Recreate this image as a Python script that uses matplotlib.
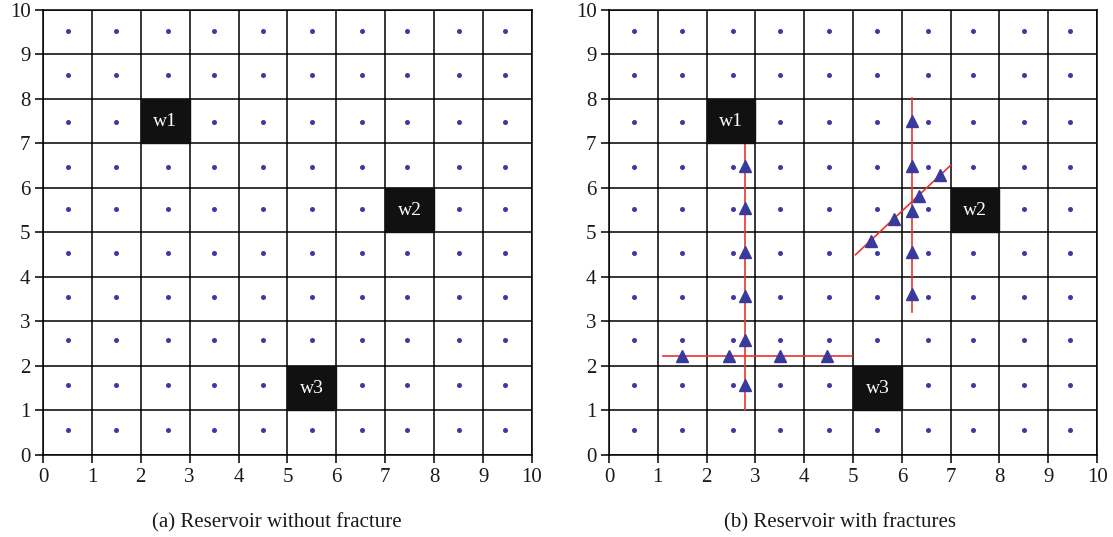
import matplotlib
matplotlib.use("Agg")
import matplotlib.pyplot as plt
from matplotlib.patches import Rectangle

# Grid-block centre points (slightly off-centre, as in the simulator layout)
dot_x = [0.52, 1.5, 2.55, 3.5, 4.5, 5.5, 6.53, 7.45, 8.5, 9.45]
dot_y = [9.53, 8.53, 7.49, 6.48, 5.52, 4.55, 3.55, 2.58, 1.58, 0.57]

# Wells: lower-left corner of each well block
well_names = ["w1", "w2", "w3"]
well_x = [2, 7, 5]
well_y = [7, 5, 1]

# Fracture traces (x pairs, y pairs)
frac_x = [[2.79, 2.79], [1.11, 4.98], [6.2, 6.2], [5.05, 7.0]]
frac_y = [[1.0, 7.0], [2.23, 2.23], [3.21, 8.02], [4.5, 6.51]]

# Fracture nodes (triangles)
node_x = [2.79, 2.79, 2.79, 2.79, 2.79, 2.79,
          1.50, 2.46, 3.50, 4.47,
          6.20, 6.20, 6.20, 6.20, 6.20,
          5.36, 5.83, 6.35, 6.79]
node_y = [1.58, 2.58, 3.57, 4.56, 5.54, 6.50,
          2.23, 2.23, 2.23, 2.23,
          7.50, 6.50, 5.48, 4.56, 3.62,
          4.82, 5.30, 5.83, 6.30]

ticks = list(range(0, 11))
captions = ["(a) Reservoir without fracture", "(b) Reservoir with fractures"]
caption_x = [0.2484, 0.7543]

plt.rcParams["font.family"] = ["Liberation Serif", "DejaVu Serif"]

dot_color = "#3b3aa3"
tri_color = "#3a3a9c"
red = "#e8352b"

fig = plt.figure(figsize=(11.13, 5.37), dpi=100)
ax_a = fig.add_axes([0.0386, 0.1527, 0.4394, 0.8287])
ax_b = fig.add_axes([0.5472, 0.1527, 0.4385, 0.8287])

for ax, cap, cx in zip([ax_a, ax_b], captions, caption_x):
    ax.set_xlim(0, 10)
    ax.set_ylim(0, 10)
    ax.set_xticks(ticks)
    ax.set_yticks(ticks)
    ax.grid(True, color="black", lw=1.1, zorder=1)
    ax.set_axisbelow(True)
    for s in ax.spines.values():
        s.set_linewidth(1.1)
        s.set_color("black")
    ax.tick_params(direction="out", length=6, width=1.1, color="black",
                   labelsize=15, labelcolor="#1a1a1a", pad=3)
    # block centre points
    xs = [x for y in dot_y for x in dot_x]
    ys = [y for y in dot_y for x in dot_x]
    ax.scatter(xs, ys, s=13, color=dot_color, zorder=2, linewidths=0)
    # wells
    for name, wx, wy in zip(well_names, well_x, well_y):
        ax.add_patch(Rectangle((wx, wy), 1, 1, facecolor="#111111",
                               edgecolor="#111111", zorder=5))
        ax.text(wx + 0.5, wy + 0.5, name, color="white", fontsize=14,
                ha="center", va="center", zorder=6)
    fig.text(cx, 0.026, cap, ha="center", va="center", fontsize=15,
             color="#1a1a1a")

# fractures in the second model
for fx, fy in zip(frac_x, frac_y):
    ax_b.plot(fx, fy, color=red, lw=1.2, zorder=3)
ax_b.plot(node_x, node_y, linestyle="none", marker="^", markersize=8.5,
          color=tri_color, zorder=4)

fig.savefig("out.png", dpi=100)
